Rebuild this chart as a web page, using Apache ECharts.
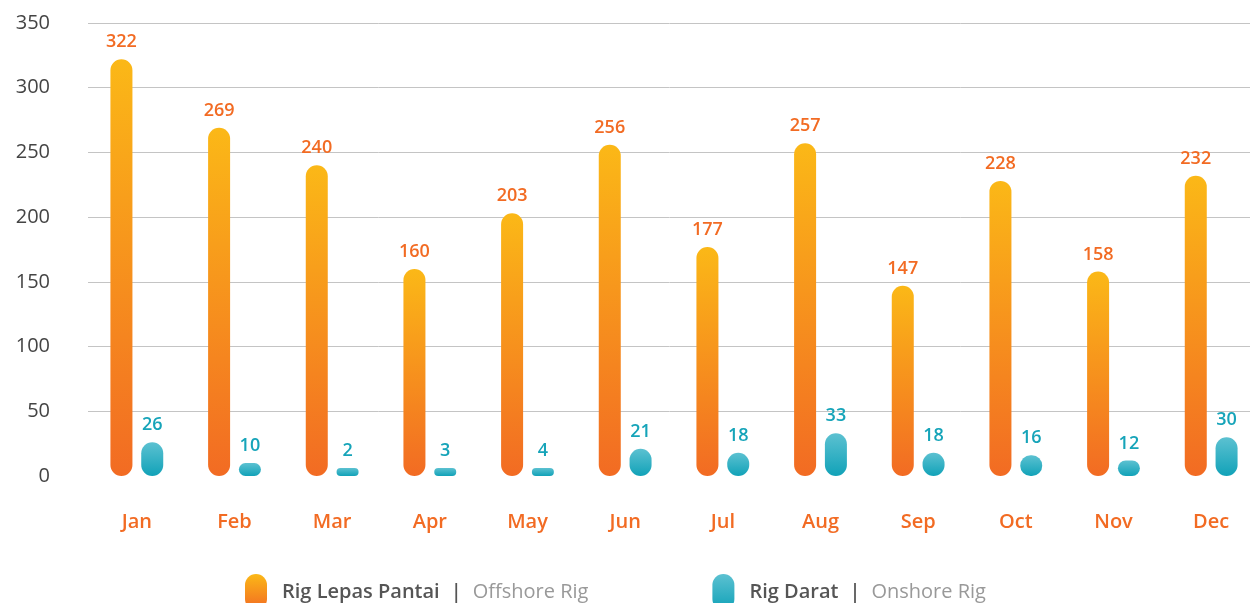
<!DOCTYPE html>
<html>
<head>
<meta charset="utf-8">
<script src="https://cdn.jsdelivr.net/npm/echarts@6/dist/echarts.min.js"></script>
<style>
  html, body { margin: 0; padding: 0; background: #fff; }
  #chart { width: 1250px; height: 603px; }
</style>
</head>
<body>
<div id="chart"></div>
<script>
// 月份
const months = ['Jan', 'Feb', 'Mar', 'Apr', 'May', 'Jun', 'Jul', 'Aug', 'Sep', 'Oct', 'Nov', 'Dec'];
// 海上钻机 / 陆上钻机
const offshore = [322, 269, 240, 160, 203, 256, 177, 257, 147, 228, 158, 232];
const onshore = [26, 10, 2, 3, 4, 21, 18, 33, 18, 16, 12, 30];
const seriesNames = ['Rig Lepas Pantai | Offshore Rig', 'Rig Darat | Onshore Rig'];

const font = "'Open Sans', 'Noto Sans', sans-serif";

const orangeGrad = new echarts.graphic.LinearGradient(0, 0, 0, 1, [
  { offset: 0, color: '#fbb817' },
  { offset: 1, color: '#f26b23' }
]);
const tealGrad = new echarts.graphic.LinearGradient(0, 0, 0, 1, [
  { offset: 0, color: '#5cc1d1' },
  { offset: 1, color: '#11a2b8' }
]);

const chart = echarts.init(document.getElementById('chart'));
chart.setOption({
  animation: false,
  textStyle: { fontFamily: font },
  // 网格超出右边界一点，和原图对齐
  grid: { left: 88, top: 23, width: 1172, height: 453, outerBoundsMode: 'none', containLabel: false },
  xAxis: {
    type: 'category',
    data: months,
    axisLine: { show: false },
    axisTick: { show: false },
    axisLabel: { color: '#f26b23', fontSize: 20, fontWeight: 600, margin: 36 }
  },
  yAxis: {
    type: 'value',
    min: 0, max: 350, interval: 50,
    axisLine: { show: false },
    axisTick: { show: false },
    axisLabel: { color: '#444', fontSize: 20, margin: 38 },
    splitLine: { showMinLine: false, lineStyle: { color: '#c4c4c4', width: 1 } }
  },
  legend: {
    left: 240, top: 569,
    itemWidth: 22, itemHeight: 36, itemGap: 124,
    icon: 'path://M0,11 a11,11 0 0 1 22,0 v14 a11,11 0 0 1 -22,0z',
    formatter: function (name) {
      const p = name.split('|');
      return '{b|' + p[0].trim() + '}{s||}{l|' + p[1].trim() + '}';
    },
    textStyle: {
      padding: [0, 0, 0, 10],
      rich: {
        b: { fontSize: 20, fontWeight: 600, color: '#555', fontFamily: font },
        s: { fontSize: 20, fontWeight: 600, color: '#555', padding: [0, 11, 0, 11], fontFamily: font },
        l: { fontSize: 20, color: '#999', fontFamily: font }
      }
    }
  },
  series: [
    {
      name: seriesNames[0],
      type: 'bar',
      data: offshore,
      barWidth: 22,
      barGap: '40%',
      barMinHeight: 8,
      itemStyle: { color: orangeGrad, borderRadius: 11 },
      label: { show: true, position: 'top', distance: 8, color: '#f26b23', fontSize: 18, fontWeight: 600 }
    },
    {
      name: seriesNames[1],
      type: 'bar',
      data: onshore,
      barWidth: 22,
      barMinHeight: 8,
      itemStyle: { color: tealGrad, borderRadius: 11 },
      label: { show: true, position: 'top', distance: 8, color: '#16a4b9', fontSize: 18, fontWeight: 600 }
    }
  ]
});
</script>
</body>
</html>
